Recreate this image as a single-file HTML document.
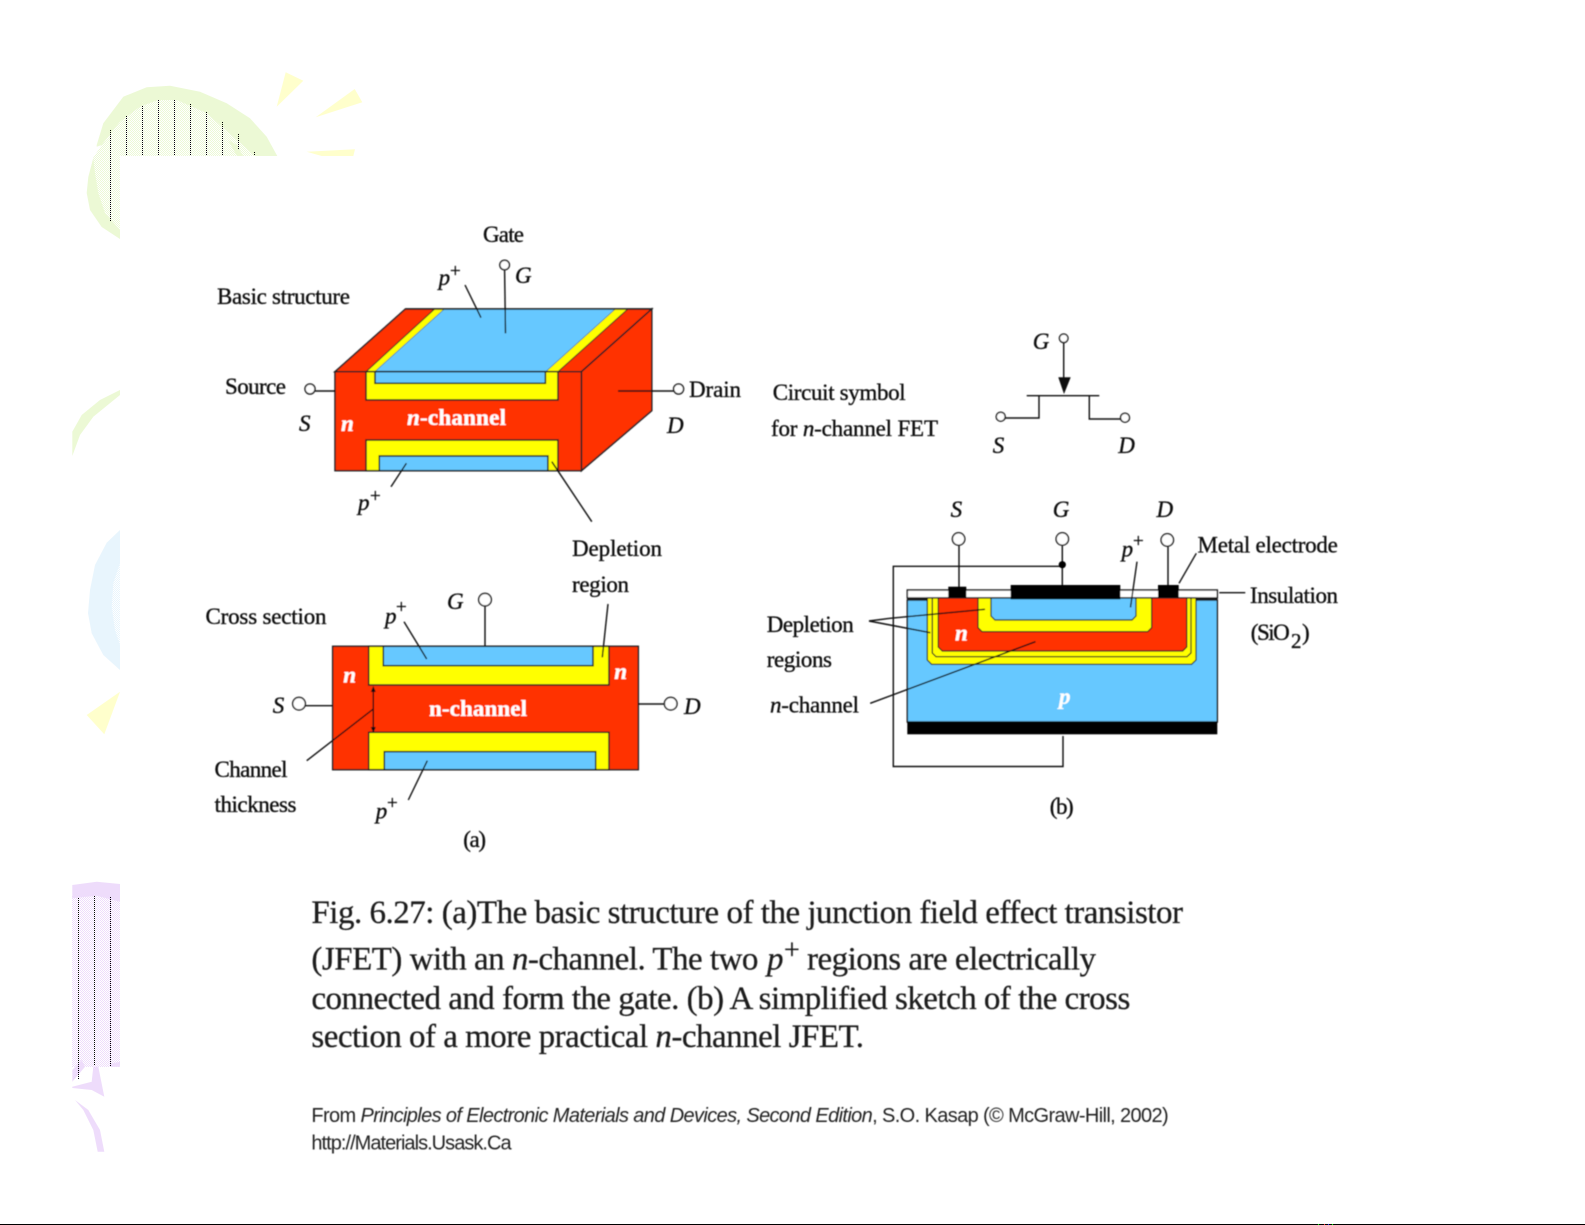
<!DOCTYPE html>
<html><head><meta charset="utf-8"><title>JFET</title>
<style>
html,body{margin:0;padding:0;background:#fff;width:1585px;height:1225px;overflow:hidden}
svg{display:block}
text{font-family:"Liberation Serif",serif;fill:#111;stroke:#111;stroke-width:.35;font-size:23px}
.i{font-style:italic}
.w{fill:#fff;stroke:#fff;stroke-width:.3;font-weight:bold}
.c{font-size:33px;fill:#1a1a1a;stroke:#1a1a1a;stroke-width:.25}
.f{font-family:"Liberation Sans",sans-serif;font-size:20px;fill:#222;stroke:none}
.s{font-size:19px}
.l{stroke:#111;stroke-width:1.4;fill:none}
.t{stroke:#222;stroke-width:1.5;fill:#fff}
.o{stroke:#222;stroke-width:1.5}
.d{stroke:#000;stroke-width:1;stroke-dasharray:1 1;fill:none}
</style></head><body>
<svg width="1585" height="1225" viewBox="0 0 1585 1225" xmlns="http://www.w3.org/2000/svg">
<defs>
<pattern id="pg" width="2" height="2" patternUnits="userSpaceOnUse"><rect width="2" height="2" fill="#fff"/><rect width="1" height="1" fill="#ecf9d5"/><rect x="1" y="1" width="1" height="1" fill="#ecf9d5"/></pattern>
<pattern id="pp" width="2" height="2" patternUnits="userSpaceOnUse"><rect width="2" height="2" fill="#fff"/><rect width="1" height="1" fill="#eedcfb"/><rect x="1" y="1" width="1" height="1" fill="#eedcfb"/></pattern>
<pattern id="pb" width="2" height="2" patternUnits="userSpaceOnUse"><rect width="2" height="2" fill="#fff"/><rect width="1" height="1" fill="#e8f5fd"/><rect x="1" y="1" width="1" height="1" fill="#e8f5fd"/></pattern>
<filter id="b" x="0" y="0" width="100%" height="100%"><feGaussianBlur stdDeviation="0.45"/></filter>
</defs>
<rect width="1585" height="1225" fill="#fff"/>

<!-- decoration: top -->
<polygon fill="url(#pg)" points="93,158 101.7,145 120,121.7 140,106.7 158.3,100 176.7,100 206.7,113.3 233.3,136.7 255,156 120,156 120,230 100,207 95,183"/>
<polygon fill="#ecf9d5" points="96.7,145 103.3,123.3 123.3,96.7 146.7,87.3 170,85.7 200,91.7 226.7,103.3 250,118.3 266.7,136.7 277.3,156 255,156 233.3,136.7 206.7,113.3 176.7,100 158.3,100 140,106.7 120,121.7 101.7,145 96.7,146.7"/>
<polygon fill="#ecf9d5" points="93.3,158 88.3,177 86.7,193 90,210 101.7,227 120,239 120,230 105,213 98.3,193 95,173"/>
<polygon fill="#ecf9d5" points="228,140 237,145 243,156 237,156"/>
<g class="d">
<line x1="110.5" y1="130" x2="110.5" y2="222"/>
<line x1="126.5" y1="116" x2="126.5" y2="156"/>
<line x1="142.5" y1="106" x2="142.5" y2="156"/>
<line x1="158.5" y1="100" x2="158.5" y2="156"/>
<line x1="174.5" y1="100" x2="174.5" y2="156"/>
<line x1="190.5" y1="104" x2="190.5" y2="156"/>
<line x1="206.5" y1="112" x2="206.5" y2="156"/>
<line x1="222.5" y1="122" x2="222.5" y2="156"/>
<line x1="238.5" y1="134" x2="238.5" y2="149"/>
<line x1="254.5" y1="152" x2="254.5" y2="156"/>
</g>
<polygon fill="#ffffcc" points="276.7,106.7 285.7,72.3 303.3,80.7"/>
<polygon fill="#ffffcc" points="315.7,117.3 354.7,89 362.3,102.3"/>
<polygon fill="#ffffcc" points="306.7,151.7 355,149.3 353.3,156 321.7,156"/>

<!-- decoration: middle -->
<polygon fill="#ecf9d5" points="120,390 100,400 81.7,415 72.3,431.7 72.3,456 80,435 93.3,416.7 120,395"/>
<polygon fill="#e8f5fd" points="120,530 106.7,542.7 95,565 90,590 88,613.3 91.7,633.3 103.3,655 120,670"/>
<polygon fill="url(#pb)" points="120,563.3 113.3,583.3 111.7,606.7 115,630 120,645"/>
<polygon fill="#ffffcc" points="120,691.7 86.7,715 104.3,734.3"/>

<!-- decoration: bottom -->
<rect x="72" y="895" width="48" height="172" fill="url(#pp)"/>
<polygon fill="#eedcfb" points="72.3,885 96.7,881.7 120,884 120,901.7 96.7,895.7 72.3,898.3"/>
<polygon fill="#eedcfb" points="110,1064 120,1061.7 120,1066.7 110,1066.7"/>
<polygon fill="#eedcfb" points="72.3,1070 81.7,1060 85,1066.7 72.3,1081.7"/>
<polygon fill="#eedcfb" points="72.3,1086.7 91.7,1081.7 93.3,1066.7 98.3,1066.7 104.3,1096.7 91.7,1090 72.3,1088"/>
<polygon fill="#eedcfb" points="75,1100 88.3,1110 100,1130 104.3,1151.7 97.7,1151.7 93.3,1130 83.3,1110"/>
<g class="d">
<line x1="78.5" y1="898" x2="78.5" y2="1080"/>
<line x1="94.5" y1="896" x2="94.5" y2="1065"/>
<line x1="110.5" y1="897" x2="110.5" y2="1067"/>
</g>

<!-- footer rule -->
<rect x="0" y="1224" width="1585" height="1" fill="#000"/>
<rect x="1318" y="1224" width="1" height="1" fill="#0f0"/>
<rect x="1324" y="1224" width="1" height="1" fill="#f33"/>
<rect x="1328" y="1224" width="1" height="1" fill="#33f"/>
<rect x="1332" y="1224" width="1" height="1" fill="#0f0"/>

<g filter="url(#b)">
<!-- 3D block -->
<polygon class="o" fill="#ff3300" points="335,371.7 405.4,309 651.8,309 581.4,371.7"/>
<polygon class="o" fill="#ff3300" points="581.4,371.7 651.8,309 651.8,410.7 581.4,470.7"/>
<polygon fill="#ffff00" stroke="#222" stroke-width="1" points="366,371.7 434.6,309 444.6,309 375,371.7"/>
<polygon fill="#ffff00" stroke="#222" stroke-width="1" points="545.4,371.7 615,309 627.9,309 558,371.7"/>
<polygon fill="#66c8ff" points="375,371.7 444.6,309 615,309 545.4,371.7"/>
<line x1="405.4" y1="309" x2="651.8" y2="309" class="o"/>
<rect x="335" y="371.7" width="246.4" height="99" fill="#ff3300" class="o"/>
<rect x="366" y="371.7" width="192" height="28.3" fill="#ffff00" class="o"/>
<rect x="375" y="371.7" width="170.4" height="11.6" fill="#66c8ff" class="o"/>
<rect x="366" y="440" width="192" height="30.7" fill="#ffff00" class="o"/>
<rect x="379.3" y="456" width="168.6" height="14.7" fill="#66c8ff" class="o"/>
<line class="l" x1="504.6" y1="270" x2="505.5" y2="333.3"/>
<circle class="t" cx="504.6" cy="265" r="4.8"/>
<line class="l" x1="315" y1="391" x2="335" y2="391"/>
<circle class="t" cx="310" cy="389" r="5"/>
<line class="l" x1="618" y1="391" x2="674" y2="391"/>
<circle class="t" cx="678.6" cy="389" r="5"/>
<line class="l" x1="465" y1="285" x2="481" y2="317.7"/>
<line class="l" x1="391" y1="486.7" x2="406.4" y2="463.3"/>
<line class="l" x1="551.8" y1="461.7" x2="591.8" y2="521.7"/>
<text x="483" y="242" textLength="41">Gate</text>
<text x="217" y="304" textLength="133">Basic structure</text>
<text x="438.6" y="285" class="i">p</text><text x="450" y="277" class="s">+</text>
<text x="515" y="283" class="i" textLength="16">G</text>
<text x="225" y="394" textLength="61">Source</text>
<text x="689" y="397" textLength="52">Drain</text>
<text x="299" y="431" class="i" textLength="12">S</text>
<text x="341" y="431" class="i w" textLength="13">n</text>
<text x="407" y="425" class="w" textLength="99"><tspan class="i">n</tspan>-channel</text>
<text x="667" y="433" class="i" textLength="15">D</text>
<text x="358" y="510" class="i">p</text><text x="370" y="502" class="s">+</text>

<!-- Cross section -->
<rect x="332.7" y="646.3" width="305.6" height="123.4" fill="#ff3300" class="o"/>
<rect x="368.7" y="646.3" width="240.3" height="38.7" fill="#ffff00" class="o"/>
<rect x="383.3" y="646.3" width="209.7" height="19.4" fill="#66c8ff" class="o"/>
<rect x="368.7" y="732.3" width="240.3" height="37.4" fill="#ffff00" class="o"/>
<rect x="384.3" y="751.7" width="211.4" height="18" fill="#66c8ff" class="o"/>
<line class="l" x1="485" y1="606" x2="485" y2="646.3"/>
<circle class="t" cx="485" cy="599.7" r="6.3"/>
<line class="l" x1="305" y1="705.7" x2="332.7" y2="705.7"/>
<circle class="t" cx="299" cy="703.7" r="6.3"/>
<line class="l" x1="638.3" y1="704" x2="664.5" y2="704"/>
<circle class="t" cx="670.7" cy="703.7" r="6.3"/>
<line class="l" x1="373.3" y1="688" x2="373.3" y2="731.7"/>
<polygon fill="#111" points="373.3,686 370.8,692 375.8,692"/>
<polygon fill="#111" points="373.3,733 370.8,727 375.8,727"/>
<line class="l" x1="373.3" y1="709" x2="306.7" y2="760.7"/>
<line class="l" x1="404" y1="621.7" x2="426.7" y2="659"/>
<line class="l" x1="427.3" y1="760.7" x2="408.3" y2="800"/>
<line class="l" x1="608" y1="604" x2="602.3" y2="657.3"/>
<text x="572" y="556" textLength="90">Depletion</text>
<text x="572" y="592" textLength="57">region</text>
<text x="205.5" y="624" textLength="121">Cross section</text>
<text x="447" y="609" class="i" textLength="16">G</text>
<text x="385" y="623.3" class="i">p</text><text x="396" y="613" class="s">+</text>
<text x="343.3" y="682.3" class="i w" textLength="13.4">n</text>
<text x="614.3" y="679" class="i w" textLength="13">n</text>
<text x="272.7" y="713" class="i" textLength="11.3">S</text>
<text x="684" y="714" class="i" textLength="15">D</text>
<text x="429" y="716" class="w" textLength="98">n-channel</text>
<text x="214.5" y="777" textLength="73">Channel</text>
<text x="214.5" y="812" textLength="82">thickness</text>
<text x="375.7" y="818.3" class="i">p</text><text x="387" y="809" class="s">+</text>
<text x="463.3" y="847" textLength="22.7">(a)</text>

<!-- Circuit symbol -->
<text x="772.7" y="400" textLength="133" lengthAdjust="spacing">Circuit symbol</text>
<text x="771" y="436" textLength="167" lengthAdjust="spacing">for <tspan class="i">n</tspan>-channel FET</text>
<text x="1032.7" y="349" class="i" textLength="15.6">G</text>
<circle class="t" cx="1063.7" cy="338.3" r="4.3"/>
<line class="l" x1="1063.7" y1="342.5" x2="1063.7" y2="380"/>
<polygon fill="#111" points="1058.3,377.3 1070.7,377.3 1064,394"/>
<polyline class="l" points="1026.7,395.7 1099.3,395.7"/>
<polyline class="l" points="1039,395.7 1039,418 1005.5,418"/>
<polyline class="l" points="1089.3,395.7 1089.3,419 1120.5,419"/>
<circle class="t" cx="1000.7" cy="416.7" r="4.5"/>
<circle class="t" cx="1125" cy="417.7" r="4.5"/>
<text x="992.7" y="453" class="i" textLength="12.3">S</text>
<text x="1118.3" y="453" class="i" textLength="15">D</text>

<!-- (b) section -->
<polyline class="l" points="1062.3,566.3 893.3,566.3 893.3,766.5 1063,766.5 1063,736"/>
<rect x="907.3" y="590" width="310" height="8" fill="#fff" class="o"/>
<rect x="907.3" y="598" width="310" height="2" fill="#111"/>
<rect x="907.3" y="600" width="310" height="122" fill="#66c8ff" class="o"/>
<rect x="907.3" y="721.7" width="310" height="12.6" fill="#000"/>
<polygon fill="#ffff00" stroke="#222" stroke-width="1.2" points="927.3,598 927.3,660 931.6,664.3 1191.6,664.3 1196,660 1196,598"/>
<polygon fill="#ffff00" stroke="#222" stroke-width="1.2" points="932.3,598 932.3,653 936,656.7 1187,656.7 1191,653 1191,598"/>
<polygon fill="#ff3300" stroke="#222" stroke-width="1.2" points="938.3,598 938.3,647 942.3,651 1182.7,651 1186.7,647 1186.7,598"/>
<polygon fill="#ffff00" stroke="#222" stroke-width="1.2" points="978,598 978,627.7 982,631.7 1147.7,631.7 1151.7,627.7 1151.7,598"/>
<polygon fill="#66c8ff" stroke="#222" stroke-width="1.2" points="991,598 991,616 995,620 1132,620 1136,616 1136,598"/>
<rect x="948.3" y="586.7" width="18" height="11" fill="#000"/>
<rect x="1010.7" y="585" width="109.6" height="14.3" fill="#000"/>
<rect x="1158" y="585" width="20.7" height="12.7" fill="#000"/>
<line class="l" x1="959" y1="545" x2="959" y2="587"/>
<line class="l" x1="1062.3" y1="545" x2="1062.3" y2="585"/>
<line class="l" x1="1168" y1="546" x2="1168" y2="585"/>
<circle class="t" cx="958.6" cy="539" r="6.2"/>
<circle class="t" cx="1062.3" cy="539" r="6.2"/>
<circle class="t" cx="1167.3" cy="540" r="6.2"/>
<circle cx="1062.3" cy="564.7" r="3.6" fill="#000"/>
<polyline class="l" points="869,621 890,618.3 985,609.3"/>
<polyline class="l" points="869,621 890,625 930.3,632.7"/>
<line class="l" x1="870.2" y1="703.3" x2="1035.5" y2="641.7"/>
<line class="l" x1="1137" y1="561.7" x2="1130.5" y2="607.3"/>
<line class="l" x1="1196.3" y1="553.3" x2="1179" y2="583.3"/>
<line class="l" x1="1219.2" y1="592.7" x2="1245.3" y2="592.7"/>
<text x="955" y="640.7" class="i w" textLength="14.3">n</text>
<text x="1059" y="704" class="i w" textLength="15">p</text>
<text x="950.6" y="517" class="i" textLength="12.2">S</text>
<text x="1052.8" y="517" class="i" textLength="16">G</text>
<text x="1156.5" y="517" class="i" textLength="16">D</text>
<text x="1121.6" y="556.7" class="i">p</text><text x="1133" y="547" class="s">+</text>
<text x="1197.5" y="552.7" textLength="140.4" lengthAdjust="spacing">Metal electrode</text>
<text x="1250" y="603" textLength="88" lengthAdjust="spacing">Insulation</text>
<text x="1250.8" y="640" textLength="39">(SiO</text><text x="1291" y="648" style="font-size:21px">2</text><text x="1302" y="640">)</text>
<text x="766.7" y="632" textLength="87" lengthAdjust="spacing">Depletion</text>
<text x="766.7" y="667" textLength="65.3" lengthAdjust="spacing">regions</text>
<text x="770" y="712.7" textLength="89" lengthAdjust="spacing"><tspan class="i">n</tspan>-channel</text>
<text x="1049.7" y="814" textLength="24">(b)</text>

<!-- caption -->
<text class="c" x="311.4" y="923" textLength="871.6">Fig. 6.27: (a)The basic structure of the junction field effect transistor</text>
<text class="c" x="311.4" y="969.5" textLength="447">(JFET) with an <tspan class="i">n</tspan>-channel. The two</text>
<text class="c i" x="767" y="969.5">p</text><text class="c" x="784" y="959" style="font-size:28px">+</text>
<text class="c" x="807" y="969.5" textLength="289">regions are electrically</text>
<text class="c" x="311.4" y="1009" textLength="818.9">connected and form the gate. (b) A simplified sketch of the cross</text>
<text class="c" x="311.4" y="1047" textLength="552.6">section of a more practical <tspan class="i">n</tspan>-channel JFET.</text>

<!-- source -->
<text class="f" x="311.4" y="1122" textLength="857.3">From <tspan class="i">Principles of Electronic Materials and Devices, Second Edition</tspan>, S.O. Kasap (© McGraw-Hill, 2002)</text>
<text class="f" x="311.4" y="1149.5" textLength="200.2">http://Materials.Usask.Ca</text>
</g>
</svg>
</body></html>
